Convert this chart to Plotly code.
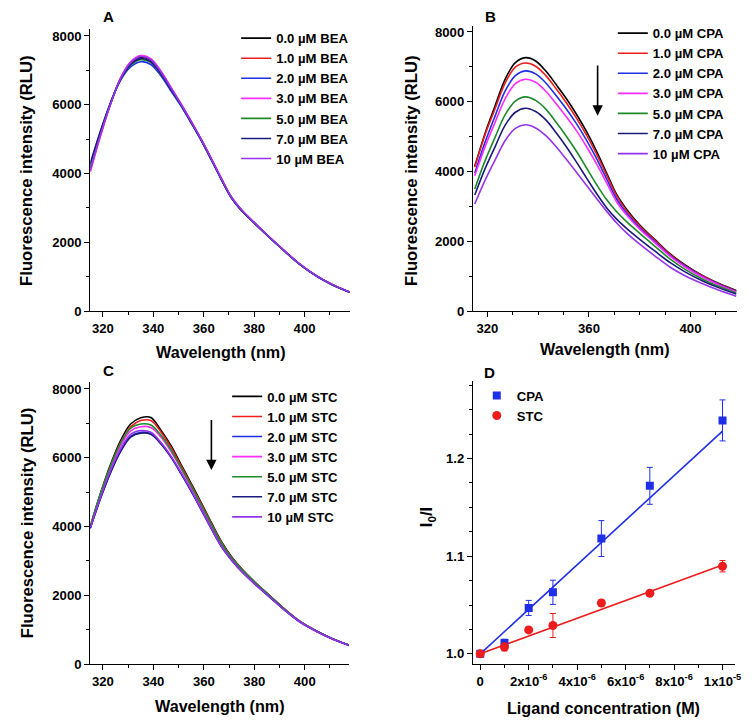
import plotly.graph_objects as go

# ---------------- data ----------------
wavelength = [315, 319, 323, 327, 331, 335, 339, 343, 347, 351, 355, 359, 363,
              367, 371, 375, 380, 386, 392, 398, 405, 411, 418]

conc_labels = ["0.0", "1.0", "2.0", "3.0", "5.0", "7.0", "10"]

# Panel A: BEA
bea_00 = [4150, 5150, 6030, 6750, 7200, 7380, 7290, 6930, 6470, 6000, 5500, 4980, 4420, 3840, 3300, 2930, 2570, 2150, 1750, 1370, 1010, 770, 550]
bea_10 = [4080, 5100, 6020, 6770, 7230, 7410, 7320, 6960, 6490, 6010, 5510, 4990, 4430, 3850, 3310, 2940, 2575, 2155, 1755, 1372, 1012, 772, 552]
bea_20 = [4250, 5200, 6040, 6710, 7100, 7250, 7170, 6840, 6400, 5960, 5470, 4960, 4400, 3820, 3290, 2920, 2565, 2145, 1748, 1368, 1008, 769, 549]
bea_30 = [4050, 5080, 6010, 6780, 7250, 7430, 7340, 6980, 6510, 6030, 5530, 5000, 4440, 3860, 3320, 2950, 2580, 2160, 1760, 1375, 1015, 774, 553]
bea_50 = [4180, 5160, 6030, 6730, 7150, 7310, 7230, 6890, 6450, 5990, 5490, 4975, 4415, 3835, 3298, 2928, 2568, 2150, 1750, 1370, 1010, 770, 550]
bea_70 = [4300, 5230, 6060, 6730, 7170, 7340, 7250, 6900, 6450, 5990, 5490, 4970, 4410, 3830, 3295, 2925, 2567, 2148, 1749, 1369, 1009, 769, 549]
bea_100 = [4100, 5120, 6020, 6760, 7220, 7400, 7310, 6950, 6490, 6010, 5510, 4990, 4430, 3850, 3310, 2940, 2575, 2155, 1755, 1372, 1012, 772, 552]

# Panel B: CPA
cpa_00 = [4150, 5080, 5880, 6650, 7120, 7265, 7170, 6880, 6500, 6100, 5650, 5150, 4580, 3950, 3330, 2900, 2470, 2050, 1640, 1320, 1010, 800, 590]
cpa_10 = [4130, 5040, 5800, 6540, 6990, 7110, 7020, 6750, 6380, 5980, 5540, 5050, 4500, 3890, 3290, 2860, 2440, 2030, 1620, 1300, 1000, 790, 580]
cpa_20 = [3950, 4830, 5590, 6310, 6750, 6885, 6800, 6540, 6180, 5800, 5380, 4900, 4370, 3780, 3200, 2790, 2390, 1990, 1590, 1280, 980, 775, 565]
cpa_30 = [3880, 4700, 5410, 6090, 6520, 6645, 6560, 6300, 5950, 5580, 5180, 4720, 4220, 3670, 3120, 2740, 2350, 1960, 1570, 1260, 965, 760, 550]
cpa_50 = [3500, 4300, 4980, 5630, 6020, 6140, 6040, 5790, 5420, 5020, 4590, 4110, 3630, 3190, 2840, 2550, 2230, 1860, 1490, 1190, 910, 715, 520]
cpa_70 = [3330, 4070, 4710, 5330, 5700, 5815, 5720, 5480, 5120, 4720, 4280, 3820, 3370, 2960, 2630, 2360, 2060, 1720, 1390, 1120, 860, 675, 490]
cpa_100 = [3070, 3740, 4330, 4890, 5240, 5340, 5250, 5030, 4720, 4360, 3990, 3610, 3230, 2860, 2520, 2230, 1920, 1580, 1260, 1010, 780, 610, 430]

# Panel C: STC
stc_00 = [4000, 4950, 5800, 6500, 6980, 7160, 7170, 6800, 6350, 5800, 5250, 4690, 4110, 3560, 3120, 2770, 2400, 2000, 1600, 1250, 950, 740, 540]
stc_10 = [4000, 4930, 5760, 6440, 6900, 7080, 7080, 6750, 6300, 5760, 5210, 4660, 4080, 3540, 3105, 2760, 2390, 1990, 1595, 1245, 948, 738, 538]
stc_20 = [3950, 4820, 5580, 6200, 6620, 6740, 6700, 6420, 6030, 5550, 5040, 4500, 3950, 3430, 3030, 2700, 2350, 1960, 1575, 1230, 940, 732, 535]
stc_30 = [3980, 4900, 5700, 6340, 6780, 6900, 6880, 6600, 6180, 5670, 5140, 4590, 4030, 3500, 3075, 2740, 2380, 1980, 1590, 1240, 945, 736, 537]
stc_50 = [4020, 4950, 5760, 6420, 6860, 6980, 6950, 6650, 6230, 5710, 5180, 4630, 4060, 3520, 3090, 2755, 2390, 1990, 1595, 1245, 948, 738, 538]
stc_70 = [3950, 4800, 5560, 6180, 6600, 6715, 6680, 6400, 6010, 5530, 5020, 4480, 3930, 3410, 3020, 2690, 2340, 1955, 1570, 1228, 938, 730, 533]
stc_100 = [3960, 4840, 5620, 6250, 6680, 6790, 6740, 6440, 6040, 5560, 5050, 4500, 3940, 3420, 3025, 2695, 2345, 1958, 1572, 1230, 940, 731, 534]

# Panel D: Stern-Volmer
ligand_conc = [0, 1e-6, 2e-6, 3e-6, 5e-6, 7e-6, 1e-5]
cpa_ratio = [1.000, 1.011, 1.047, 1.063, 1.118, 1.172, 1.239]
cpa_err = [0.001, 0.004, 0.0077, 0.0124, 0.0184, 0.0189, 0.021]
stc_ratio = [1.000, 1.007, 1.0245, 1.029, 1.052, 1.062, 1.0897]
stc_err = [0.001, 0.004, 0.002, 0.0123, 0.003, 0.003, 0.0058]
fit_x = [0, 1e-5]
cpa_fit = [1.000, 1.228]
stc_fit = [1.000, 1.091]

d_tickvals = [0, 2e-6, 4e-6, 6e-6, 8e-6, 1e-5]
d_ticktext = ["0", "2x10<sup>-6</sup>", "4x10<sup>-6</sup>", "6x10<sup>-6</sup>",
              "8x10<sup>-6</sup>", "1x10<sup>-5</sup>"]

colors = ["#000000", "#ee1c1c", "#1f2fe8", "#ff2bff", "#1e8a2a", "#1a1a7a", "#9533ee"]

FONT = "Liberation Sans, Arial, sans-serif"
W, H = 752, 723
# the photographed page shows the figure offset by the 8 px body margin and
# scaled by ~0.9895; positions below are given in photographed pixels
BODY, S = 8, 0.9895


def px(x):  # photographed x (px) -> paper fraction
    return (x / S - BODY) / W


def py(y):  # photographed y (px from top) -> paper fraction
    return 1 - (y / S - BODY) / H


def fs(size):
    return size / S


fig = go.Figure()

panels = [
    ("BEA", [bea_00, bea_10, bea_20, bea_30, bea_50, bea_70, bea_100], "x", "y", "legend"),
    ("CPA", [cpa_00, cpa_10, cpa_20, cpa_30, cpa_50, cpa_70, cpa_100], "x2", "y2", "legend2"),
    ("STC", [stc_00, stc_10, stc_20, stc_30, stc_50, stc_70, stc_100], "x3", "y3", "legend3"),
]
for name, series, xa, ya, lg in panels:
    for lab, vals, col in zip(conc_labels, series, colors):
        fig.add_trace(go.Scatter(
            x=wavelength, y=vals, mode="lines", name=f"{lab} \u00b5M {name}",
            line=dict(color=col, width=1.6, shape="spline", smoothing=1.0),
            xaxis=xa, yaxis=ya, legend=lg))

# Panel D
fig.add_trace(go.Scatter(x=fit_x, y=cpa_fit, mode="lines", showlegend=False,
                         line=dict(color="#1f2fe8", width=1.6), xaxis="x4", yaxis="y4"))
fig.add_trace(go.Scatter(x=fit_x, y=stc_fit, mode="lines", showlegend=False,
                         line=dict(color="#ee1c1c", width=1.6), xaxis="x4", yaxis="y4"))
fig.add_trace(go.Scatter(
    x=ligand_conc, y=cpa_ratio, mode="markers", name="CPA",
    marker=dict(symbol="square", size=8, color="#1f2fe8"),
    error_y=dict(type="data", array=cpa_err, color="#1f2fe8", thickness=1, width=3),
    xaxis="x4", yaxis="y4", legend="legend4"))
fig.add_trace(go.Scatter(
    x=ligand_conc, y=stc_ratio, mode="markers", name="STC",
    marker=dict(symbol="circle", size=9, color="#ee1c1c"),
    error_y=dict(type="data", array=stc_err, color="#ee1c1c", thickness=1, width=3),
    xaxis="x4", yaxis="y4", legend="legend4"))

tickfont = dict(family=FONT, size=fs(13), color="black", weight="bold")
common = dict(showline=True, linecolor="black", linewidth=1.3, ticks="outside",
              ticklen=5, tickwidth=1.2, tickcolor="black", showgrid=False,
              zeroline=False, tickfont=tickfont, mirror=False)

layout_axes = dict(
    xaxis=dict(domain=[px(90), px(349)], range=[315, 418], anchor="y", dtick=20, tick0=320,
               minor=dict(ticks="outside", ticklen=3, dtick=10, tick0=320, tickcolor="black"), **common),
    yaxis=dict(domain=[py(310.7), py(28)], range=[0, 8200], anchor="x", dtick=2000,
               minor=dict(ticks="outside", ticklen=3, dtick=1000, tickcolor="black"), **common),
    xaxis2=dict(domain=[px(471.7), px(735.3)], range=[314.3, 418.4], anchor="y2", dtick=40, tick0=320,
                minor=dict(ticks="outside", ticklen=3, dtick=10, tick0=320, tickcolor="black"), **common),
    yaxis2=dict(domain=[py(310.7), py(25)], range=[0, 8170], anchor="x2", dtick=2000,
                minor=dict(ticks="outside", ticklen=3, dtick=1000, tickcolor="black"), **common),
    xaxis3=dict(domain=[px(90), px(347.7)], range=[315, 417.4], anchor="y3", dtick=20, tick0=320,
                minor=dict(ticks="outside", ticklen=3, dtick=10, tick0=320, tickcolor="black"), **common),
    yaxis3=dict(domain=[py(664.3), py(381.7)], range=[0, 8200], anchor="x3", dtick=2000,
                minor=dict(ticks="outside", ticklen=3, dtick=1000, tickcolor="black"), **common),
    xaxis4=dict(domain=[px(471.7), px(732.7)], range=[-0.3e-6, 1.05e-5], anchor="y4",
                tickvals=d_tickvals, ticktext=d_ticktext,
                minor=dict(ticks="outside", ticklen=3, dtick=1e-6, tick0=0, tickcolor="black"), **common),
    yaxis4=dict(domain=[py(664), py(380.7)], range=[0.9898, 1.2793], anchor="x4", dtick=0.1, tick0=1.0,
                tickformat=".1f",
                minor=dict(ticks="outside", ticklen=3, dtick=0.025, tick0=1.0, tickcolor="black"), **common),
)

legfont = dict(family=FONT, size=fs(13), color="black", weight="bold")
legcommon = dict(xanchor="left", yanchor="top", bgcolor="rgba(0,0,0,0)", font=legfont,
                 borderwidth=0, tracegroupgap=0)

annotations = []
for txt, x, y in [("A", 108, 15), ("B", 489, 15), ("C", 108, 370), ("D", 488, 372)]:
    annotations.append(dict(text=f"<b>{txt}</b>", x=px(x), y=py(y), xref="paper", yref="paper",
                            xanchor="center", yanchor="middle", showarrow=False,
                            font=dict(family=FONT, size=fs(15), color="black")))

for txt, x, y, ang, size in [
    ("Fluorescence intensity (RLU)", 27, 170, -90, 16.5),
    ("Fluorescence intensity (RLU)", 411, 170, -90, 16.5),
    ("Fluorescence intensity (RLU)", 27, 523, -90, 16.5),
    ("I<sub>0</sub>/I", 426, 517, -90, 16.5),
    ("Wavelength (nm)", 220, 351.5, 0, 16),
    ("Wavelength (nm)", 603.5, 349, 0, 16),
    ("Wavelength (nm)", 219, 706.5, 0, 16),
    ("Ligand concentration (M)", 602, 708, 0, 16),
]:
    annotations.append(dict(text=f"<b>{txt}</b>", x=px(x), y=py(y), xref="paper", yref="paper",
                            xanchor="center", yanchor="middle", showarrow=False, textangle=ang,
                            font=dict(family=FONT, size=fs(size), color="black")))

# arrows in B and C (data coordinates)
annotations.append(dict(x=363.4, y=5600, ax=363.4, ay=7085, xref="x2", yref="y2", axref="x2", ayref="y2",
                        text="", showarrow=True, arrowhead=2, arrowsize=1.3, arrowwidth=1.6, arrowcolor="black"))
annotations.append(dict(x=363.0, y=5640, ax=363.0, ay=7140, xref="x3", yref="y3", axref="x3", ayref="y3",
                        text="", showarrow=True, arrowhead=2, arrowsize=1.3, arrowwidth=1.6, arrowcolor="black"))

fig.update_layout(
    width=W, height=H, margin=dict(l=0, r=0, t=0, b=0),
    paper_bgcolor="white", plot_bgcolor="white",
    font=dict(family=FONT, color="black"),
    legend=dict(x=px(235.5), y=py(22), **legcommon),
    legend2=dict(x=px(611.2), y=py(17), **legcommon),
    legend3=dict(x=px(226.5), y=py(381), **legcommon),
    legend4=dict(x=px(475.5), y=py(380), **legcommon),
    annotations=annotations,
    **layout_axes,
)

fig.write_html("out.html")
